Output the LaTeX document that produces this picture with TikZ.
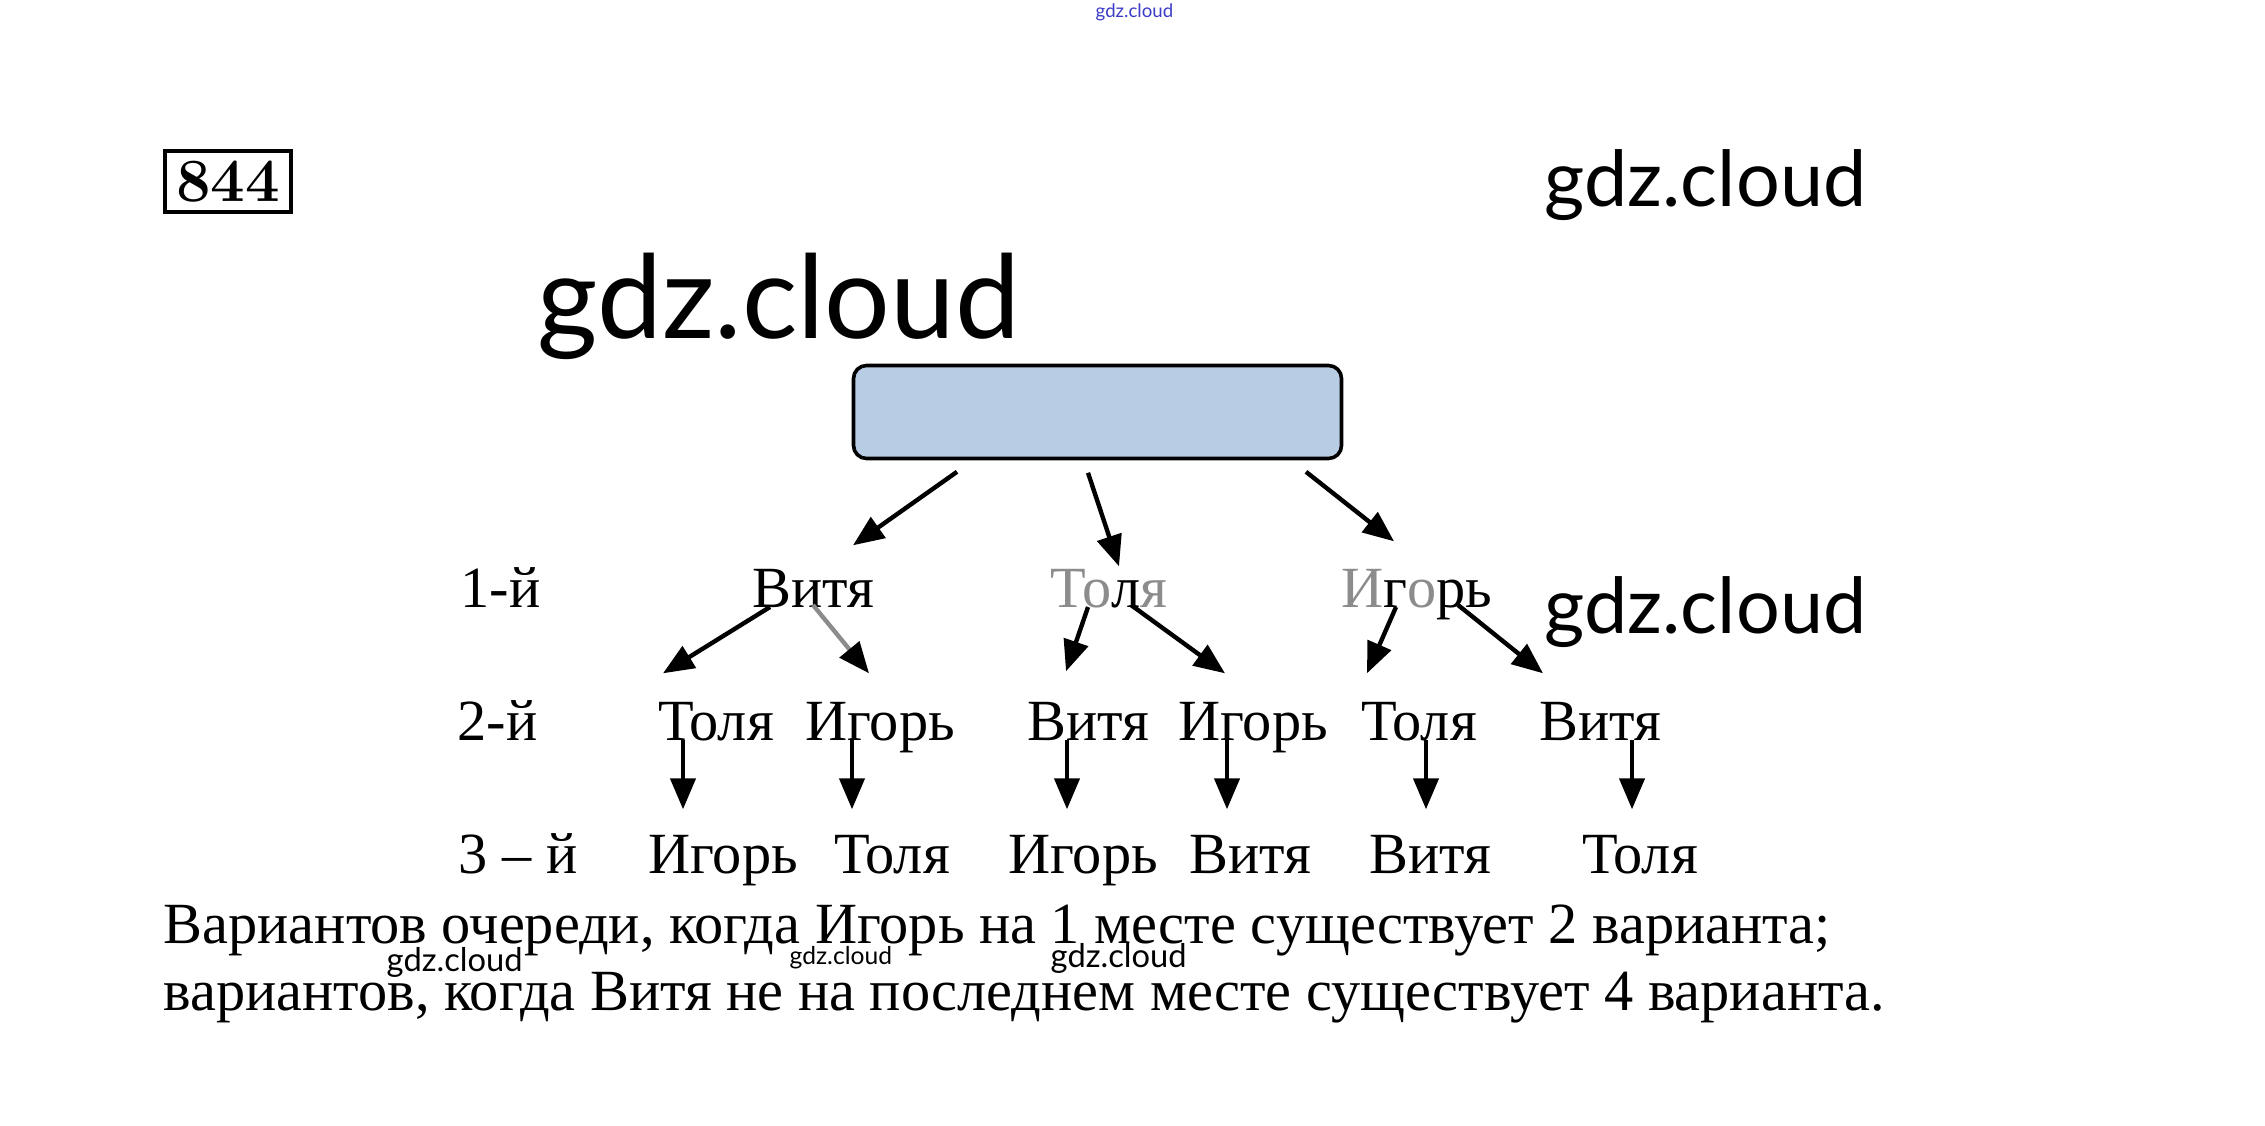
\documentclass[tikz,border=0pt]{standalone}
\usepackage{fontspec}
\usepackage{xcolor}
\usepackage{tikz}
\usetikzlibrary{arrows.meta}
\newfontfamily\tnr{Liberation Serif}
\newfontfamily\wm{Lato}
\definecolor{boxblue}{RGB}{184,204,228}
\definecolor{wmgray}{RGB}{140,140,140}
\definecolor{wmblue}{RGB}{60,60,200}

\begin{document}
\begin{tikzpicture}[x=0.1mm,y=-0.1mm,>={Triangle[length=3.1mm,width=2.5mm]},
    nm/.style={font=\tnr\fontsize{16.6}{19}\selectfont,inner sep=0pt,text height=3.8mm,text depth=1.2mm,anchor=base},
    lbl/.style={nm,anchor=base west},
    arr/.style={->,line width=1.25pt},
    wmk/.style={font=\wm,anchor=base west,inner sep=0pt}]
  \useasboundingbox (0,0) rectangle (2265,1125);
  % number of the exercise
  \node[draw,line width=0.38mm,minimum width=12.6mm,minimum height=6.1mm,inner sep=0pt,
    font=\bfseries\fontsize{17.5}{19}\selectfont] (num) at (228,181.5) {844};
  % watermarks
  \node[wmk,font=\wm\fontsize{5.3}{6}\selectfont,text=wmblue] (wm0) at (1095,18) {gdz.cloud};
  \node[wmk,font=\wm\fontsize{33}{36}\selectfont] (wm1) at (537,338) {gdz.cloud};
  \node[wmk,font=\wm\fontsize{22}{24}\selectfont] (wm2) at (1544,206) {gdz.cloud};
  \node[wmk,font=\wm\fontsize{22}{24}\selectfont] (wm3) at (1544,633) {gdz.cloud};
  % the box on top
  \node[draw,line width=0.36mm,fill=boxblue,rounded corners=1.3mm,
    minimum width=48.8mm,minimum height=9.3mm] (root) at (1097.5,412) {};
  % rows
  \node[lbl] (l1) at (460,607) {1-й};
  \node[lbl] (l2) at (457,740) {2-й};
  \node[lbl] (l3) at (458,873) {3 – й};
  \node[nm] (v1) at (813,607) {Витя};
  \node[nm] (t1) at (1109,607) {{\color{wmgray}То}л{\color{wmgray}я}};
  \node[nm] (i1) at (1417,607) {{\color{wmgray}И}г{\color{wmgray}о}рь};
  \node[nm] (t2a) at (716,740) {Толя};
  \node[nm] (i2a) at (880,740) {Игорь};
  \node[nm] (v2b) at (1088,740) {Витя};
  \node[nm] (i2b) at (1253,740) {Игорь};
  \node[nm] (t2c) at (1419,740) {Толя};
  \node[nm] (v2c) at (1600,740) {Витя};
  \node[nm] (i3a) at (723,873) {Игорь};
  \node[nm] (t3a) at (892,873) {Толя};
  \node[nm] (i3b) at (1083,873) {Игорь};
  \node[nm] (v3b) at (1250,873) {Витя};
  \node[nm] (v3c) at (1430,873) {Витя};
  \node[nm] (t3c) at (1640,873) {Толя};
  % arrows
  \draw[arr] ([shift={(-140.5,11.5)}]root.south) -- ([shift={(40,-23)}]v1.north);
  \draw[arr] ([shift={(-9.5,12.5)}]root.south) -- ([shift={(10,-2)}]t1.north);
  \draw[arr] ([shift={(208.5,11.5)}]root.south) -- ([shift={(-23,-27)}]i1.north);
  \draw[arr] ([shift={(-43,0)}]v1.base) -- ([shift={(-53,-28)}]t2a.north);
  \draw[arr,wmgray,-{Triangle[length=3.1mm,width=2.5mm,color=black]}] ([shift={(0,-2)}]v1.base) -- ([shift={(-11,-28)}]i2a.north);
  \draw[arr] ([shift={(-21,0)}]t1.base) -- ([shift={(-22,-30)}]v2b.north);
  \draw[arr] ([shift={(22,-2)}]t1.base) -- ([shift={(-28,-28)}]i2b.north);
  \draw[arr] ([shift={(-21,0)}]i1.base) -- ([shift={(-52,-28)}]t2c.north);
  \draw[arr] ([shift={(41,-2)}]i1.base) -- ([shift={(-57,-28)}]v2c.north);
  \draw[arr] ([shift={(-33,0)}]t2a.base) -- ([shift={(-40,-25)}]i3a.north);
  \draw[arr] ([shift={(-28,0)}]i2a.base) -- ([shift={(-40,-25)}]t3a.north);
  \draw[arr] ([shift={(-21,0)}]v2b.base) -- ([shift={(-16,-25)}]i3b.north);
  \draw[arr] ([shift={(-26,0)}]i2b.base) -- ([shift={(-23,-25)}]v3b.north);
  \draw[arr] ([shift={(7,0)}]t2c.base) -- ([shift={(-4,-25)}]v3c.north);
  \draw[arr] ([shift={(32,0)}]v2c.base) -- ([shift={(-8,-25)}]t3c.north);
  % answer
  \node[lbl] (ans1) at (163,943) {Вариантов очереди, когда Игорь на 1 месте существует 2 варианта;};
  \node[lbl] (ans2) at (163,1010) {вариантов, когда Витя не на последнем месте существует 4 варианта.};
  \node[wmk,font=\wm\fontsize{9.3}{10}\selectfont] (wm4) at (386,971) {gdz.cloud};
  \node[wmk,font=\wm\fontsize{7}{8}\selectfont] (wm5) at (789,964) {gdz.cloud};
  \node[wmk,font=\wm\fontsize{9.3}{10}\selectfont] (wm6) at (1050,967) {gdz.cloud};
\end{tikzpicture}
\end{document}
